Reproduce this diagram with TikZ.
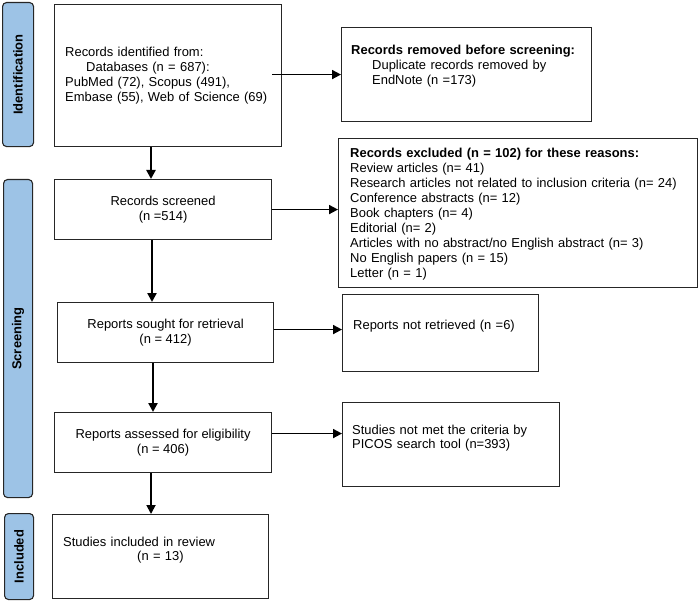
\documentclass[tikz,border=0pt]{standalone}
\usepackage{fontspec}
\setmainfont{Liberation Sans}
\usetikzlibrary{arrows.meta,calc}
\definecolor{phaseblue}{RGB}{157,195,230}
\newcommand\fsz{\fontsize{13}{15}\selectfont}
\newcommand\phz{\fontsize{13}{15}\selectfont\bfseries}
\begin{document}
\begin{tikzpicture}[x=1bp,y=-1bp,
  box/.style={draw=black!85, line width=1.1bp, inner sep=0pt, anchor=north west, font=\fsz, align=center},
  txt/.style={anchor=base west, inner sep=0pt, font=\fsz, align=left, text width=340bp},
  phase/.style={draw=black!85, fill=phaseblue, rounded corners=4bp, line width=1.1bp, anchor=north west, inner sep=0pt},
  phasetxt/.style={rotate=90, font=\phz, inner sep=0pt},
  arrT/.style={-{Triangle[length=9bp,width=9bp]}, line width=2.6bp},
  arrM/.style={-{Triangle[length=9bp,width=9bp]}, line width=1.8bp},
]
\useasboundingbox (0,0) rectangle (699,602);
% phases
\node[phase, minimum width=31bp, minimum height=144bp] (pid) at (2,2) {};
\node[phasetxt] (pidt) at (pid.center) {Identification};
\node[phase, minimum width=29bp, minimum height=318bp] (psc) at (3,179) {};
\node[phasetxt] (psct) at (psc.center) {Screening};
\node[phase, minimum width=29bp, minimum height=86bp] (pin) at (4,513) {};
\node[phasetxt] (pint) at (pin.center) {Included};
% boxes
\node[box, minimum width=227bp, minimum height=142bp] (ident) at (54,4) {};
\node[txt] (identt) at (65,57) {Records identified from:\\\hspace*{21bp}Databases (n = 687):\\PubMed (72), Scopus (491),\\Embase (55), Web of Science (69)};
\node[box, minimum width=250bp, minimum height=94bp] (removed) at (341,27) {};
\node[txt] (removedt) at (351,55) {\textbf{Records removed before screening:}\\\hspace*{21bp}Duplicate records removed by\\\hspace*{21bp}EndNote (n =173)};
\node[box, minimum width=359bp, minimum height=149bp] (excl) at (338,138) {};
\node[txt] (exclt) at (350,158) {\textbf{Records excluded (n = 102) for these reasons:}\\Review articles (n= 41)\\Research articles not related to inclusion criteria (n= 24)\\Conference abstracts (n= 12)\\Book chapters (n= 4)\\Editorial (n= 2)\\Articles with no abstract/no English abstract (n= 3)\\No English papers (n = 15)\\Letter (n = 1)};
\node[box, minimum width=217bp, minimum height=60bp] (screened) at (54,179) {Records screened\\(n =514)};
\node[box, minimum width=216bp, minimum height=60bp] (sought) at (57,302) {Reports sought for retrieval\\(n = 412)};
\node[box, minimum width=196bp, minimum height=77bp] (notret) at (342,294) {};
\node[txt] (notrett) at (353,329) {Reports not retrieved (n =6)};
\node[box, minimum width=217bp, minimum height=60bp] (assessed) at (54,412) {Reports assessed for eligibility\\(n = 406)};
\node[box, minimum width=217bp, minimum height=84bp] (picos) at (342,402) {};
\node[txt] (picost) at (352,434) {Studies not met the criteria by\\PICOS search tool (n=393)};
\node[box, minimum width=216bp, minimum height=84bp] (incl) at (52,514) {};
\node[txt] (inclt) at (63,546) {Studies included in review\\\hspace*{74bp}(n = 13)};
% connectors
\coordinate (c1) at (151,0);
\coordinate (c2) at (152,0);
\coordinate (c3) at (153,0);
\draw[arrT] (ident.south -| c1) -- (screened.north -| c1);
\draw[arrT] (screened.south -| c2) -- (sought.north -| c2);
\draw[arrT] (sought.south -| c3) -- (assessed.north -| c3);
\draw[arrM] (assessed.south -| c1) -- (incl.north -| c1);
\draw[arrM] ([xshift=-10bp,yshift=1bp]ident.east) -- ([yshift=1bp]ident.east -| removed.west);
\draw[arrM] (screened.east) -- (screened.east -| excl.west);
\draw[arrM] ([yshift=3bp]sought.east) -- ([yshift=3bp]sought.east -| notret.west);
\draw[arrM] ([yshift=9bp]assessed.east) -- ([yshift=9bp]assessed.east -| picos.west);
\end{tikzpicture}
\end{document}
